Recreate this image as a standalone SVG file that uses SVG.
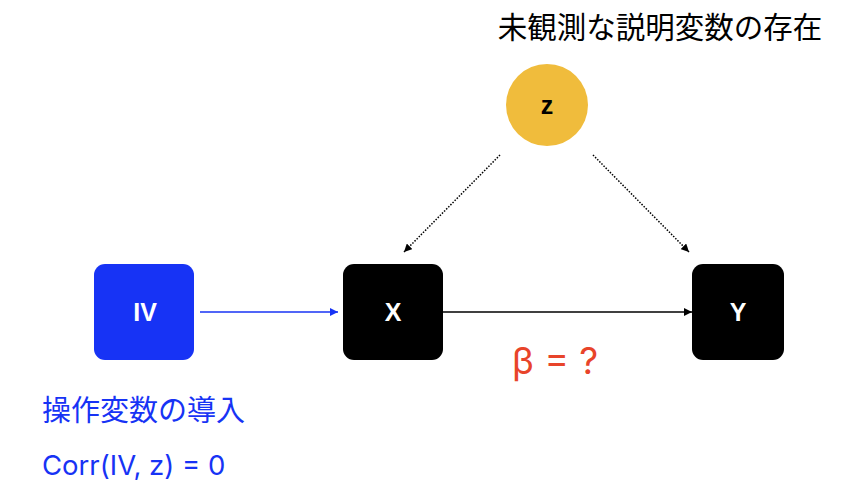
<svg xmlns="http://www.w3.org/2000/svg" width="850" height="490" viewBox="0 0 850 490">
<style>
.lbl{font-family:"Liberation Sans","Noto Sans CJK JP",sans-serif;font-weight:bold;font-size:25px;fill:#fff;text-anchor:middle}
.jp{font-family:"Noto Sans CJK JP","Noto Sans",sans-serif}
</style>
<defs>
<marker id="ab" markerWidth="8" markerHeight="8" refX="8" refY="4" orient="auto" markerUnits="userSpaceOnUse"><path d="M0,0L8,4L0,8z" fill="#1733f5"/></marker>
<marker id="ak" markerWidth="8" markerHeight="8" refX="8" refY="4" orient="auto" markerUnits="userSpaceOnUse"><path d="M0,0L8,4L0,8z" fill="#000"/></marker>
</defs>
<rect width="850" height="490" fill="#fff"/>
<text x="660" y="38" class="jp" font-size="29.5" text-anchor="middle" fill="#000">未観測な説明変数の存在</text>
<g id="z"><circle cx="547" cy="105" r="41" fill="#f0bc3c"/><text x="547" y="114" class="lbl" style="fill:#000">z</text></g>
<g id="IV"><rect x="94" y="264" width="100" height="96" rx="11" fill="#1733f5"/><text x="145" y="321" class="lbl">IV</text></g>
<g id="X"><rect x="343" y="264" width="100" height="96" rx="11" fill="#000"/><text x="393" y="321" class="lbl">X</text></g>
<g id="Y"><rect x="692" y="264" width="92" height="96" rx="11" fill="#000"/><text x="738" y="321" class="lbl">Y</text></g>
<g id="connectors">
<line x1="200" y1="312" x2="338" y2="312" stroke="#1733f5" stroke-width="1.5" marker-end="url(#ab)"/>
<line x1="443" y1="312" x2="692" y2="312" stroke="#000" stroke-width="1.5" marker-end="url(#ak)"/>
<line x1="500" y1="155" x2="404" y2="252" stroke="#000" stroke-width="1.5" stroke-dasharray="1.5,1.5" marker-end="url(#ak)"/>
<line x1="593" y1="155" x2="689" y2="252" stroke="#000" stroke-width="1.5" stroke-dasharray="1.5,1.5" marker-end="url(#ak)"/>
</g>
<text x="512" y="374" font-family="Inter,'Liberation Sans',sans-serif" font-size="37" fill="#e8442a">β = ?</text>
<text x="42" y="421" class="jp" font-size="29" fill="#1733f5">操作変数の導入</text>
<text x="42" y="475" font-family="Inter,'Liberation Sans',sans-serif" font-size="27.5" fill="#1733f5">Corr(IV, z) = 0</text>
</svg>
